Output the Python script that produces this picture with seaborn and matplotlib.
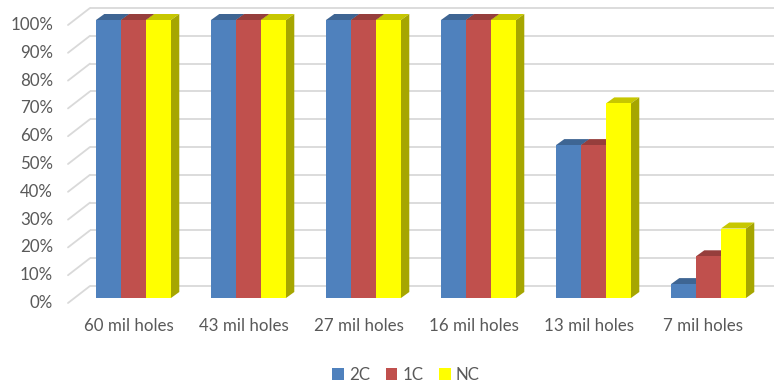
import numpy as np
import pandas as pd
import seaborn as sns
import matplotlib
matplotlib.use("Agg")
import matplotlib.pyplot as plt
from matplotlib.patches import Polygon, Patch
from matplotlib.colors import to_rgb

# Pass rate per drilled hole size and coating
categories = ["60 mil holes", "43 mil holes", "27 mil holes",
              "16 mil holes", "13 mil holes", "7 mil holes"]
series = ["2C", "1C", "NC"]
pass_2c = [100, 100, 100, 100, 55, 5]
pass_1c = [100, 100, 100, 100, 55, 15]
pass_nc = [100, 100, 100, 100, 70, 25]
y_ticks = list(range(0, 101, 10))
y_tick_labels = [f"{v}%" for v in y_ticks]

front_colors = {"2C": "#4F81BD", "1C": "#C0504D", "NC": "#FFFF00"}
text_color = "#595959"
grid_color = "#D9D9D9"

df = pd.DataFrame({
    "hole": categories * 3,
    "series": [s for s in series for _ in categories],
    "pct": pass_2c + pass_1c + pass_nc,
})

sns.set_theme(style="white")
plt.rcParams["font.family"] = ["Lato", "DejaVu Sans"]
FS = 12.2

W, H = 774, 382
fig = plt.figure(figsize=(W / 100, H / 100), dpi=100)

# bar plane (front faces of the bars) in pixels
left_px, right_px, base_px, top_px = 74.5, 760, 298, 20
ax = fig.add_axes([left_px / W, (H - base_px) / H,
                   (right_px - left_px) / W, (base_px - top_px) / H])

sns.barplot(data=df, x="hole", y="pct", hue="series", order=categories,
            hue_order=series, palette=front_colors, saturation=1,
            width=0.652, linewidth=0, legend=False, ax=ax)

first_center_px, group_step_px = 133.5, 115
ax.set_xlim((left_px - first_center_px) / group_step_px,
            (right_px - first_center_px) / group_step_px)
ax.set_ylim(0, 100)
ax.set_axis_off()

# conversion from pixel offsets into data units
p0 = ax.transData.transform((0, 0))
sx = ax.transData.transform((1, 0))[0] - p0[0]
sy = ax.transData.transform((0, 1))[1] - p0[1]


def px(dx, dy):
    return dx / sx, dy / sy


depth_dx, depth_dy = px(8.3, 6)      # bar depth (top and side faces)
back_dx, back_dy = px(15.5, 12)      # back wall of the chart box
front_dx, front_dy = px(-6.5, -5)    # front edge of the chart box
xl, xr = ax.get_xlim()

# back-wall gridlines with the short receding edge on the left
for v in y_ticks:
    ax.plot([xl + back_dx, xr + back_dx + 1], [v + back_dy, v + back_dy],
            color=grid_color, lw=1.3, zorder=0.5, clip_on=False,
            solid_capstyle="butt")
    ax.plot([xl + front_dx, xl + back_dx], [v + front_dy, v + back_dy],
            color=grid_color, lw=1.3, zorder=0.5, clip_on=False)

# 3-D faces for every bar
for bar in ax.patches:
    x0, w, h = bar.get_x(), bar.get_width(), bar.get_height()
    base = np.array(to_rgb(bar.get_facecolor()))
    top = Polygon([(x0, h), (x0 + w, h), (x0 + w + depth_dx, h + depth_dy),
                   (x0 + depth_dx, h + depth_dy)], closed=True,
                  facecolor=base * 0.78, edgecolor="none", zorder=1.5,
                  clip_on=False)
    side = Polygon([(x0 + w, 0), (x0 + w + depth_dx, depth_dy),
                    (x0 + w + depth_dx, h + depth_dy), (x0 + w, h)],
                   closed=True, facecolor=base * 0.65, edgecolor="none",
                   zorder=1.5, clip_on=False)
    ax.add_patch(top)
    ax.add_patch(side)
    bar.set_zorder(2)

# axis labels on the front edge
lab_dx, _ = px(15, 0)
for v, lab in zip(y_ticks, y_tick_labels):
    ax.text(xl + front_dx - lab_dx, v + front_dy, lab, ha="right",
            va="center", fontsize=FS, color=text_color, clip_on=False)

cat_dx, cat_dy = px(-5, -28)
for i, lab in enumerate(categories):
    ax.text(i + cat_dx, cat_dy, lab, ha="center", va="center",
            fontsize=FS, color=text_color, clip_on=False)

handles = [Patch(facecolor=front_colors[s], edgecolor="none", label=s)
           for s in series]
fig.legend(handles=handles, loc="center", bbox_to_anchor=(406 / W, 1 - 375 / H),
           ncol=3, frameon=False, fontsize=FS, labelcolor=text_color,
           handlelength=0.7, handleheight=0.7, handletextpad=0.3,
           columnspacing=0.9, borderpad=0)

fig.savefig("out.png", dpi=100, facecolor="white")
